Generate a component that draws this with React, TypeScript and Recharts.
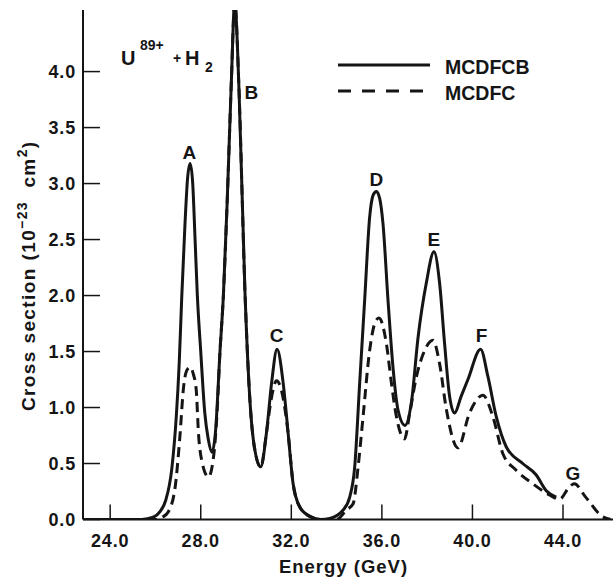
import React from 'react';
import { LineChart, Line, XAxis, YAxis, ReferenceDot, Legend } from 'recharts';

const FONT = '"Liberation Sans", Arial, Helvetica, sans-serif';
const INK = '#151515';

// MCDFCB cross section (solid curve), energy in GeV, sigma in 1e-23 cm^2
const mcdfcbEnergy = [
  22.8, 25.4, 25.9, 26.2, 26.45, 26.72, 26.92, 27.05, 27.16, 27.3, 27.42, 27.53, 27.64, 27.75,
  27.85, 28.0, 28.18, 28.33, 28.5, 28.65, 28.85, 29.0, 29.17, 29.35, 29.5, 29.69, 29.95, 30.17,
  30.39, 30.65, 30.9, 31.13, 31.37, 31.64, 31.86, 32.08, 32.38, 32.8, 33.3, 33.7, 34.29, 34.58,
  34.8, 35.02, 35.24, 35.46, 35.62, 35.76, 35.9, 36.05, 36.27, 36.49, 36.71, 37.02, 37.3, 37.6,
  37.96, 38.3, 38.55, 38.77, 38.99, 39.21, 39.5, 39.8, 40.36, 40.68, 41.05, 41.49, 42.22, 42.81,
  43.25, 43.7,
];
const mcdfcbSigma = [
  0, 0, 0.02, 0.07, 0.17, 0.45, 0.92, 1.4, 1.98, 2.62, 3.05, 3.18, 3.02, 2.5,
  2.0, 1.5, 0.95, 0.72, 0.6, 0.78, 1.5, 2.0, 2.85, 3.9, 4.62, 3.84, 2.05, 1.07,
  0.62, 0.47, 0.77, 1.22, 1.52, 1.22, 0.77, 0.32, 0.11, 0.03, 0, 0.01, 0.085, 0.2,
  0.47, 1.22, 1.96, 2.7, 2.9, 2.93, 2.87, 2.64, 1.96, 1.36, 0.98, 0.84, 1.04, 1.63,
  2.11, 2.39, 2.11, 1.57, 1.1, 0.95, 1.1, 1.25, 1.52, 1.28, 0.92, 0.65, 0.5, 0.4,
  0.26, 0.2,
];

// MCDFC cross section (dashed curve)
const mcdfcEnergy = [
  22.8, 26.0, 26.3, 26.57, 26.87, 27.09, 27.23, 27.38, 27.53, 27.67, 27.8, 27.9, 28.04, 28.34,
  28.56, 28.72, 28.85, 29.0, 29.17, 29.35, 29.5, 29.69, 29.95, 30.17, 30.39, 30.65, 30.9, 31.1,
  31.35, 31.58, 31.86, 32.08, 32.38, 32.8, 33.3, 34.0, 34.44, 34.73, 34.95, 35.17, 35.46, 35.7,
  35.87, 36.2, 36.42, 36.64, 37.0, 37.23, 37.52, 37.89, 38.26, 38.55, 38.85, 39.36, 39.87, 40.46,
  40.9, 41.34, 41.93, 42.66, 43.4, 43.84, 44.28, 44.5, 45.0, 45.75, 46.1,
];
const mcdfcSigma = [
  0, 0, 0.02, 0.07, 0.29, 0.77, 1.16, 1.33, 1.36, 1.3, 1.16, 0.77, 0.53, 0.38,
  0.55, 0.95, 1.5, 2.0, 2.85, 3.9, 4.62, 3.84, 2.05, 1.07, 0.62, 0.47, 0.77, 1.06,
  1.24, 1.14, 0.77, 0.32, 0.11, 0.03, 0, 0, 0.085, 0.14, 0.47, 0.92, 1.51, 1.76,
  1.8, 1.57, 1.22, 0.92, 0.72, 0.95, 1.27, 1.51, 1.6, 1.39, 0.98, 0.64, 0.95, 1.11,
  0.92, 0.59, 0.44, 0.32, 0.22, 0.18, 0.29, 0.32, 0.2, 0.025, 0,
];

const seriesNames = ['MCDFCB', 'MCDFC'];
const energyTicks = [24, 28, 32, 36, 40, 44];
const sigmaTicks = [0, 0.5, 1, 1.5, 2, 2.5, 3, 3.5, 4];

// peak tags and where their letters sit (energy, sigma)
const peakNames = ['A', 'B', 'C', 'D', 'E', 'F', 'G'];
const peakTagEnergy = [27.5, 30.24, 31.35, 35.76, 38.3, 40.4, 44.44];
const peakTagSigma = [3.28, 3.81, 1.64, 3.04, 2.5, 1.64, 0.41];

const toPoints = (e: number[], s: number[]) => e.map((energy, i) => ({ energy, sigma: s[i] }));
const mcdfcbData = toPoints(mcdfcbEnergy, mcdfcbSigma);
const mcdfcData = toPoints(mcdfcEnergy, mcdfcSigma);

const tickText = { fill: INK, fontSize: 18, fontWeight: 700, fontFamily: FONT, letterSpacing: 0.8 };
const noLabel = () => <g />;

const renderLegend = (props: any) => {
  const items = [...(props.payload || [])].sort(
    (a: any, b: any) => seriesNames.indexOf(a.value) - seriesNames.indexOf(b.value)
  );
  return (
    <div style={{ fontFamily: FONT }}>
      {items.map((it: any) => (
        <div key={it.value} style={{ display: 'flex', alignItems: 'flex-start', height: 26 }}>
          <svg width={92} height={26}>
            <line
              x1={0}
              x2={92}
              y1={11}
              y2={11}
              stroke={INK}
              strokeWidth={3}
              strokeDasharray={it.payload?.strokeDasharray ? '13 11' : undefined}
            />
          </svg>
          <span style={{ marginLeft: 15, fontSize: 19.5, fontWeight: 700, lineHeight: '26px', color: INK }}>
            {it.value}
          </span>
        </div>
      ))}
    </div>
  );
};

const yTitle = (props: any) => {
  const vb = props.viewBox;
  const cx = vb.x + 12;
  const cy = vb.y + vb.height / 2 + 11;
  return (
    <text
      x={cx}
      y={cy}
      transform={`rotate(-90, ${cx}, ${cy})`}
      textAnchor="middle"
      fill={INK}
      fontFamily={FONT}
      fontWeight={700}
      fontSize={19}
      letterSpacing={1.4}
    >
      Cross section (10
      <tspan fontSize={14} dy={-8}>{'\u2212'}23</tspan>
      <tspan dy={8}>{'\u00a0\u00a0cm'}</tspan>
      <tspan fontSize={14} dy={-8}>2</tspan>
      <tspan dy={8}>)</tspan>
    </text>
  );
};

const xTitle = (props: any) => {
  const vb = props.viewBox;
  return (
    <text
      x={vb.x + vb.width / 2 - 6}
      y={vb.y + 53.5}
      textAnchor="middle"
      fill={INK}
      fontFamily={FONT}
      fontWeight={700}
      fontSize={18.5}
      letterSpacing={1}
    >
      Energy (GeV)
    </text>
  );
};

export default function App() {
  return (
    <div style={{ position: 'absolute', left: 0, top: 0, width: 613, height: 578, overflow: 'hidden', background: '#fff' }}>
      <LineChart width={640} height={578} margin={{ top: 10, right: 24, bottom: 18.5, left: 23 }}>
        <XAxis
          dataKey="energy"
          type="number"
          domain={[22.8, 46.34]}
          ticks={energyTicks}
          tickFormatter={(v: number) => v.toFixed(1)}
          height={40}
          tickSize={-15}
          tickMargin={30}
          tick={tickText}
          axisLine={{ stroke: INK, strokeWidth: 2 }}
          tickLine={{ stroke: INK, strokeWidth: 1.5 }}
          label={xTitle}
        />
        <XAxis
          xAxisId="top"
          orientation="top"
          mirror
          type="number"
          domain={[22.8, 46.34]}
          ticks={energyTicks}
          height={0}
          tickSize={17}
          tick={noLabel}
          axisLine={{ stroke: INK, strokeWidth: 2 }}
          tickLine={{ stroke: INK, strokeWidth: 1.5 }}
        />
        <YAxis
          type="number"
          domain={[0, 4.55]}
          allowDataOverflow
          ticks={sigmaTicks}
          tickFormatter={(v: number) => v.toFixed(1)}
          width={60}
          tickSize={-17}
          tickMargin={24}
          tick={tickText}
          axisLine={{ stroke: INK, strokeWidth: 2 }}
          tickLine={{ stroke: INK, strokeWidth: 1.5 }}
          label={yTitle}
        />
        <YAxis
          yAxisId="right"
          orientation="right"
          mirror
          type="number"
          domain={[0, 4.55]}
          ticks={sigmaTicks}
          width={0}
          tickSize={17}
          tick={noLabel}
          axisLine={{ stroke: INK, strokeWidth: 2 }}
          tickLine={{ stroke: INK, strokeWidth: 1.5 }}
        />
        <Legend
          layout="vertical"
          align="center"
          verticalAlign="middle"
          content={renderLegend}
          wrapperStyle={{ left: 338, top: 54, width: 'auto', height: 'auto' }}
        />
        <Line
          name="MCDFCB"
          data={mcdfcbData}
          dataKey="sigma"
          type="monotone"
          stroke={INK}
          strokeWidth={3}
          strokeLinejoin="round"
          dot={false}
          activeDot={false}
          isAnimationActive={false}
        />
        <Line
          name="MCDFC"
          data={mcdfcData}
          dataKey="sigma"
          type="monotone"
          stroke={INK}
          strokeWidth={3}
          strokeDasharray="10 6"
          dot={false}
          activeDot={false}
          isAnimationActive={false}
        />
        {peakNames.map((name, i) => (
          <ReferenceDot
            key={name}
            x={peakTagEnergy[i]}
            y={peakTagSigma[i]}
            r={0}
            ifOverflow="visible"
            shape={(p: any) => (
              <text
                x={p.cx}
                y={p.cy}
                textAnchor="middle"
                dominantBaseline="central"
                fill={INK}
                fontFamily={FONT}
                fontWeight={700}
                fontSize={19}
              >
                {name}
              </text>
            )}
          />
        ))}
      </LineChart>
      <svg width={140} height={40} style={{ position: 'absolute', left: 110, top: 36 }}>
        <g fill={INK} fontFamily={FONT} fontWeight={700}>
          <text x={11} y={29} fontSize={20}>U</text>
          <text x={30} y={14} fontSize={14}>89+</text>
          <text x={63} y={27} fontSize={14}>+</text>
          <text x={75} y={29} fontSize={20}>H</text>
          <text x={95} y={36} fontSize={14}>2</text>
        </g>
      </svg>
    </div>
  );
}
